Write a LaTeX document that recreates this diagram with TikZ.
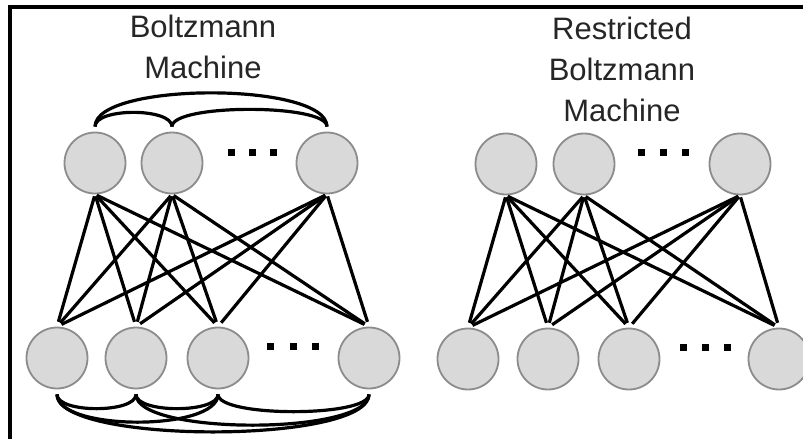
\documentclass[tikz,border=0pt]{standalone}
\usepackage{fontspec}
\setmainfont{Liberation Sans}
\definecolor{unitfill}{HTML}{D9D9D9}
\definecolor{unitline}{HTML}{8C8C8C}
\tikzset{
  unit/.style={circle, draw=unitline, fill=unitfill, line width=1.8pt, minimum size=61pt, inner sep=0pt},
  wire/.style={line width=3.2pt, shorten >=5pt, shorten <=2pt},
  link/.style={line width=3.2pt, shorten >=5pt, shorten <=5pt},
  title/.style={align=center, text=black!85, font=\fontsize{31}{41}\selectfont}
}
\begin{document}
\begin{tikzpicture}[x=1pt, y=-1pt]
    \useasboundingbox (0,0) rectangle (803,439);
    \draw[line width=3.5pt](10, 439) -- (10, 7) -- (803, 7);

    %%bm
    \node[title] (bmname) at (203, 47){Boltzmann\\Machine};
      \node[unit] (lt1) at (95, 163){};
      \node[unit] (lt2) at (172, 163){};
      \node[unit] (lt3) at (327, 163){};
      \node[unit] (lb1) at (57, 358){};
      \node[unit] (lb2) at (136, 358){};
      \node[unit] (lb3) at (218, 358){};
      \node[unit] (lb4) at (369, 358){};
    \foreach \x in {231, 252, 273} \fill (\x-3.5, 149) rectangle +(7, 7);
    \foreach \x in {270, 293, 315} \fill (\x-3.5, 343) rectangle +(7, 7);

      \draw[wire](lt1.south) -- (lb1.north);
      \draw[wire](lt1.south) -- (lb2.north);
      \draw[wire](lt1.south) -- (lb3.north);
      \draw[wire](lt1.south) -- (lb4.north);
      \draw[wire](lt2.south) -- (lb1.north);
      \draw[wire](lt2.south) -- (lb2.north);
      \draw[wire](lt2.south) -- (lb3.north);
      \draw[wire](lt2.south) -- (lb4.north);
      \draw[wire](lt3.south) -- (lb1.north);
      \draw[wire](lt3.south) -- (lb2.north);
      \draw[wire](lt3.south) -- (lb3.north);
      \draw[wire](lt3.south) -- (lb4.north);

    %% links inside the top layer
      \draw[link](lt1.north) .. controls +(0, -50) and +(0, -50) .. (lt3.north);
      \draw[link](lt1.north) .. controls +(0, -24) and +(0, -24) .. (lt2.north);
      \draw[link](lt2.north) .. controls +(0, -28) and +(0, -28) .. (lt3.north);

    %% links inside the bottom layer
      \draw[link](lb1.south) .. controls +(0, 24) and +(0, 24) .. (lb2.south);
      \draw[link](lb2.south) .. controls +(0, 24) and +(0, 24) .. (lb3.south);
      \draw[link](lb3.south) .. controls +(0, 28) and +(0, 28) .. (lb4.south);
      \draw[link](lb1.south) .. controls +(0, 42) and +(0, 42) .. (lb3.south);
      \draw[link](lb2.south) .. controls +(0, 46) and +(0, 46) .. (lb4.south);
      \draw[link](lb1.south) .. controls +(0, 55) and +(0, 55) .. (lb4.south);

    %%rbm
    \node[title] (rbmname) at (622, 69){Restricted\\Boltzmann\\Machine};
      \node[unit] (rt1) at (506, 164){};
      \node[unit] (rt2) at (584, 164){};
      \node[unit] (rt3) at (740, 164){};
      \node[unit] (rb1) at (468, 359){};
      \node[unit] (rb2) at (548, 359){};
      \node[unit] (rb3) at (629, 359){};
      \node[unit] (rb4) at (779, 359){};
    \foreach \x in {641, 663, 685} \fill (\x-3.5, 149) rectangle +(7, 7);
    \foreach \x in {683, 705, 727} \fill (\x-3.5, 344) rectangle +(7, 7);

      \draw[wire](rt1.south) -- (rb1.north);
      \draw[wire](rt1.south) -- (rb2.north);
      \draw[wire](rt1.south) -- (rb3.north);
      \draw[wire](rt1.south) -- (rb4.north);
      \draw[wire](rt2.south) -- (rb1.north);
      \draw[wire](rt2.south) -- (rb2.north);
      \draw[wire](rt2.south) -- (rb3.north);
      \draw[wire](rt2.south) -- (rb4.north);
      \draw[wire](rt3.south) -- (rb1.north);
      \draw[wire](rt3.south) -- (rb2.north);
      \draw[wire](rt3.south) -- (rb3.north);
      \draw[wire](rt3.south) -- (rb4.north);
\end{tikzpicture}
\end{document}
